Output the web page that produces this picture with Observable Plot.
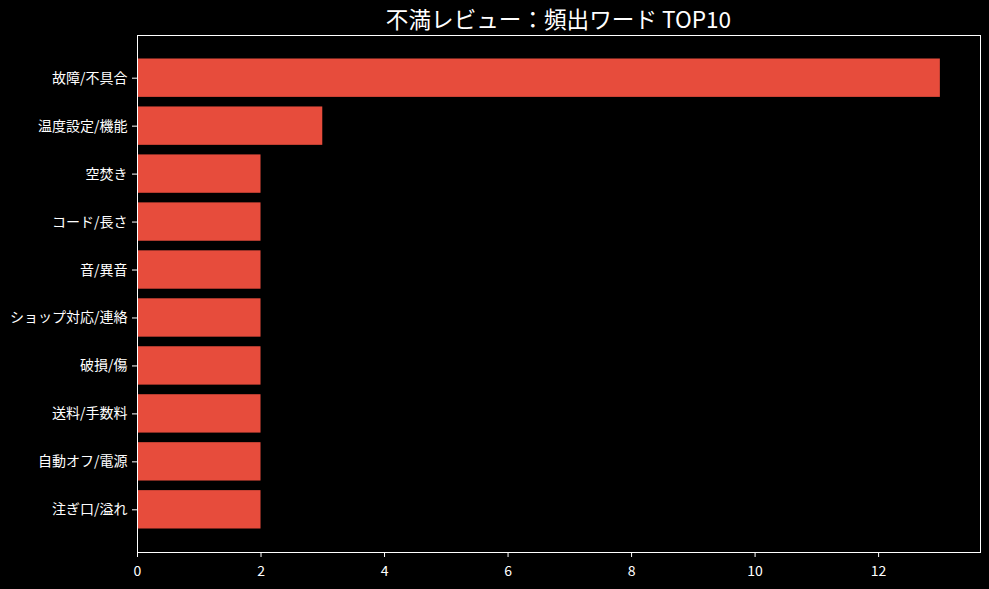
<!DOCTYPE html>
<html>
<head>
<meta charset="utf-8">
<script src="https://cdn.jsdelivr.net/npm/d3@7"></script>
<script src="https://cdn.jsdelivr.net/npm/@observablehq/plot@0.6"></script>
<style>
  html, body { margin: 0; padding: 0; background: #000; }
  #title {
    height: 34px; box-sizing: border-box;
    padding-left: 137px; padding-right: 9px; padding-top: 5px;
    text-align: center; color: #fff;
    font-family: "Noto Sans CJK JP", "DejaVu Sans", sans-serif;
    font-size: 22.6px; line-height: 28px;
  }
  svg { display: block; }
  svg g[aria-label="x-axis tick label"], svg g[aria-label="y-axis tick label"] { font-size: 14px !important; }
</style>
</head>
<body>
<div id="title">不満レビュー：頻出ワード TOP10</div>
<div id="chart"></div>
<script>
const categories = ["故障/不具合", "温度設定/機能", "空焚き", "コード/長さ", "音/異音", "ショップ対応/連絡", "破損/傷", "送料/手数料", "自動オフ/電源", "注ぎ口/溢れ"];
const counts = [13, 3, 2, 2, 2, 2, 2, 2, 2, 2];
const xTicks = [0, 2, 4, 6, 8, 10, 12];

const data = categories.map((c, i) => ({category: c, count: counts[i]}));

const chart = Plot.plot({
  width: 989,
  height: 555,
  marginTop: 1,
  marginBottom: 37,
  marginLeft: 137,
  marginRight: 9,
  style: {background: "#000", color: "#fff", fontFamily: "'Noto Sans CJK JP', 'DejaVu Sans', sans-serif", fontSize: "14px"},
  x: {domain: [0, 13.65], label: null},
  y: {domain: categories, paddingInner: 0.2, paddingOuter: 0.49, round: false, label: null},
  marks: [
    Plot.barX(data, {x: "count", y: "category", fill: "#E74C3C"}),
    Plot.axisX({ticks: xTicks, tickSize: 5, tickPadding: 9, label: null, stroke: "#fff", fill: "#fff", fontSize: 14}),
    Plot.axisY({tickSize: 5, tickPadding: 5, label: null, stroke: "#fff", fill: "#fff", fontSize: 14}),
    Plot.frame({stroke: "#fff", strokeWidth: 1})
  ]
});
document.getElementById("chart").appendChild(chart);
</script>
</body>
</html>
